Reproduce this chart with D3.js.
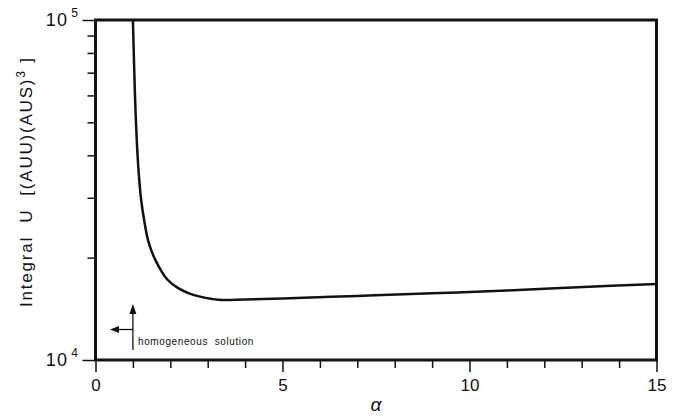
<!DOCTYPE html>
<html><head><meta charset="utf-8">
<script src="https://cdn.jsdelivr.net/npm/d3@7"></script>
<style>body{margin:0;background:#fff}svg{display:block}text{font-family:"Liberation Sans",Arial,sans-serif;fill:#111;white-space:pre}</style>
</head><body><svg id="c" width="686" height="416"></svg>
<script>
// Data
const alphaVals = [1.0, 1.03, 1.06, 1.1, 1.15, 1.22, 1.3, 1.4, 1.5, 1.6, 1.75, 1.92, 2.2, 2.5, 2.8, 3.3, 4, 5, 7, 9, 11, 12.6, 15];
const uVals     = [100000, 75200, 58200, 45000, 36200, 29600, 25800, 22600, 20900, 19700, 18350, 17250, 16300, 15710, 15360, 15030, 15070, 15170, 15430, 15710, 16010, 16320, 16730];
const xTicks = d3.range(0, 16);
const xMajor = [0, 5, 10, 15];
const yMinor = [2e4, 3e4, 4e4, 5e4, 6e4, 7e4, 8e4, 9e4];
const yMajor = [1e4, 1e5];
const yMajorLabels = [["10","4"],["10","5"]];
const xLabel = "α";
const yLabel = "Integral  U  [(AUU)(AUS)";
const yLabelSup = "3";
const annotation = "homogeneous  solution";
const annotAlpha = 1.0;

const svg = d3.select("#c");
const L = 95.5, R = 656.5, T = 20, B = 360;
const x = d3.scaleLinear().domain([0, 15]).range([L, R]);
const y = d3.scaleLog().domain([1e4, 1e5]).range([B, T]);

// x ticks
const gx = svg.append("g").attr("transform", `translate(0,${B})`);
gx.call(d3.axisBottom(x).tickValues(xTicks).tickSizeOuter(0).tickFormat(""))
  .call(g => g.select(".domain").remove());
gx.selectAll(".tick line").attr("stroke", "#111").attr("stroke-width", 1.5)
  .attr("y2", d => xMajor.includes(d) ? 12 : 8);
gx.selectAll(".tick").filter(d => xMajor.includes(d)).append("text")
  .attr("y", 31).attr("text-anchor", "middle").attr("font-size", 17)
  .style("fill", "#111").text(d => d);

// y ticks
const gy = svg.append("g").attr("transform", `translate(${L},0)`);
gy.call(d3.axisLeft(y).tickValues(yMinor.concat(yMajor)).tickFormat("").tickSizeOuter(0))
  .call(g => g.select(".domain").remove());
gy.selectAll(".tick line").attr("stroke", "#111").attr("stroke-width", 1.5)
  .attr("x2", d => yMajor.includes(d) ? -13 : -8);
yMajor.forEach((v, i) => {
  const t = svg.append("text").attr("x", 79).attr("y", y(v) + 6)
    .attr("text-anchor", "end").attr("font-size", 18).attr("letter-spacing", 1.2);
  t.append("tspan").text(yMajorLabels[i][0]);
  t.append("tspan").attr("dx", 3).attr("dy", -9).attr("font-size", 12).text(yMajorLabels[i][1]);
});

// frame
svg.append("rect").attr("x", L).attr("y", T).attr("width", R - L).attr("height", B - T)
  .attr("fill", "none").attr("stroke", "#111").attr("stroke-width", 3);

// curve
const line = d3.line().x((d, i) => x(alphaVals[i])).y(d => y(d)).curve(d3.curveCatmullRom.alpha(0.5));
svg.append("path").datum(uVals).attr("d", line).attr("fill", "none")
  .attr("stroke", "#111").attr("stroke-width", 2.5).attr("stroke-linejoin", "round");

// annotation
const ax = x(annotAlpha);
svg.append("line").attr("x1", ax).attr("x2", ax).attr("y1", 312).attr("y2", 350)
  .attr("stroke", "#111").attr("stroke-width", 1.3);
svg.append("path").attr("d", `M${ax},304 L${ax-3.5},314 L${ax+3.5},314 Z`).attr("fill", "#111");
svg.append("line").attr("x1", ax).attr("x2", 118).attr("y1", 329.5).attr("y2", 329.5)
  .attr("stroke", "#111").attr("stroke-width", 1.3);
svg.append("path").attr("d", `M110,329.5 L119,326 L119,333 Z`).attr("fill", "#111");
svg.append("text").attr("x", 138).attr("y", 345).attr("font-size", 10)
  .attr("letter-spacing", 0.6).text(annotation);

// axis titles
svg.append("text").attr("x", (L + R) / 2).attr("y", 411).attr("text-anchor", "middle")
  .attr("font-size", 19).attr("font-style", "italic").text(xLabel);
const yt = svg.append("text").attr("transform", `translate(32,307) rotate(-90)`)
  .attr("text-anchor", "start").attr("font-size", 17).attr("letter-spacing", 1.8);
yt.append("tspan").text(yLabel);
yt.append("tspan").attr("dy", -7).attr("font-size", 12).text(yLabelSup);
yt.append("tspan").attr("dy", 7).text(" ]");
</script></body></html>
